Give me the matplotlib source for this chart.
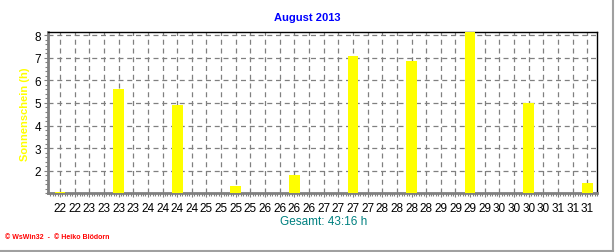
import matplotlib
matplotlib.use("Agg")
import matplotlib.pyplot as plt
from matplotlib.lines import Line2D
from matplotlib.ticker import MultipleLocator, FixedLocator

plt.rcParams['font.family'] = ['Liberation Sans', 'DejaVu Sans']

# Data: sunshine hours per day (bar tops), August 22-31 2013
days = [22, 23, 24, 25, 26, 27, 28, 29, 30, 31]
sunshine = [1.05, 5.62, 4.91, 1.32, 1.82, 7.08, 6.86, 8.15, 5.00, 1.44]
title = "August 2013"
ylabel = "Sonnenschein (h)"
total_text = "Gesamt: 43:16 h"
footer = "\u00a9 WsWin32  -  \u00a9 Heiko Blödorn"

# hours since Aug 22 00:00
bar_x = [(d - 22) * 24 + 12 for d in days]
tick_x = list(range(12, (31 - 22) * 24 + 12 + 1, 6))
tick_labels = [str(22 + t // 24) for t in tick_x]

fig = plt.figure(figsize=(6.16, 2.53), dpi=100)
ax = fig.add_axes([0.0784, 0.232, 0.8912, 0.6364])

ymin = 1.0
ax.bar(bar_x, [v - ymin for v in sunshine], bottom=ymin, width=4.4,
       color='#FFFF00', zorder=3)

ax.set_xlim(7.2, 232.1)
ax.set_ylim(1.0, 8.13)

ax.xaxis.set_major_locator(FixedLocator(tick_x))
ax.set_xticklabels(tick_labels)
ax.xaxis.set_minor_locator(MultipleLocator(1))
ax.yaxis.set_major_locator(FixedLocator([2, 3, 4, 5, 6, 7, 8]))
ax.yaxis.set_minor_locator(MultipleLocator(0.2))

ax.grid(True, which='major', color='#808080', linestyle=(0, (4, 3)),
        linewidth=0.9, zorder=1)
ax.set_axisbelow(True)

for s in ['left', 'bottom']:
    ax.spines[s].set_color('#808080')
    ax.spines[s].set_linewidth(2)
for s in ['top', 'right']:
    ax.spines[s].set_color('black')
    ax.spines[s].set_linewidth(1)

ax.tick_params(axis='x', which='major', length=3, width=0.8, color='#808080',
               labelsize=8.5, pad=3, labelcolor='black')
ax.tick_params(axis='x', which='minor', length=2, width=0.8, color='#808080')
ax.tick_params(axis='y', which='major', length=3, width=0.8, color='#808080',
               labelsize=8.5, pad=2, labelcolor='black')
ax.tick_params(axis='y', which='minor', length=2, width=0.8, color='#808080')

fig.text(0.4984, 1 - 18 / 253, title, color='#0000FF', fontsize=8,
         fontweight='bold', ha='center', va='center')
fig.text(25 / 616, 1 - 114 / 253, ylabel, color='#FFFF00', fontsize=8,
         fontweight='bold', rotation=90, ha='center', va='center')
fig.text(324 / 616, 1 - 222 / 253, total_text, color='#008080', fontsize=8.5,
         ha='center', va='center')
fig.text(5 / 616, 1 - 238 / 253, footer, color='#FF0000', fontsize=5,
         fontweight='bold', ha='left', va='center')

fig.add_artist(Line2D([612.5 / 616, 612.5 / 616], [0, 1], color='#A0A0A0',
                      linewidth=1.5, transform=fig.transFigure))
fig.add_artist(Line2D([0, 612.5 / 616], [0.8 / 253, 0.8 / 253], color='#A0A0A0',
                      linewidth=1.5, transform=fig.transFigure))

fig.savefig('out.png', dpi=100, facecolor='white')
